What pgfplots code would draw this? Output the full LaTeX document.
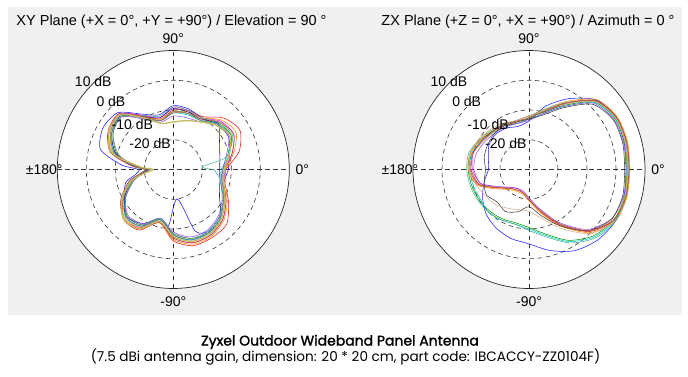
\documentclass[border=0pt]{standalone}
\usepackage{pgfplots}
\pgfplotsset{compat=1.18}
\usepackage{fontspec}
\setmainfont{Liberation Sans}
\newfontfamily\pop{Poppins}
\newfontfamily\popm[FakeBold=1.6]{Poppins}
\definecolor{panel}{RGB}{240,240,240}
\definecolor{c1}{RGB}{30,30,255}
\definecolor{c2}{RGB}{235,20,20}
\definecolor{c3}{RGB}{0,150,0}
\definecolor{c4}{RGB}{240,0,240}
\definecolor{c5}{RGB}{0,205,205}
\definecolor{c6}{RGB}{255,140,0}
\definecolor{c7}{RGB}{195,185,95}
\definecolor{c8}{RGB}{150,80,230}
\definecolor{c9}{RGB}{30,30,150}
\definecolor{c10}{RGB}{80,175,150}
\definecolor{c11}{RGB}{180,80,50}
\definecolor{c12}{RGB}{130,130,130}
\definecolor{c13}{RGB}{60,60,60}
\definecolor{c14}{RGB}{215,175,140}
\pgfplotsset{
  tr/.style={line width=0.55pt, smooth, tension=0.45, no marks, data cs=polar},
  pax/.style={width=232pt, height=238pt, scale only axis, xmin=-40, xmax=40, ymin=-40, ymax=40, hide axis, clip=false},
}
\newcommand{\polgrid}{%
  \fill[white] (axis cs:0,0) ellipse [x radius=40, y radius=40];
  \draw[black!80, line width=0.6pt, dash pattern=on 4.5pt off 3.5pt] (axis cs:0,0) ellipse [x radius=10, y radius=10];
  \draw[black!80, line width=0.6pt, dash pattern=on 4.5pt off 3.5pt] (axis cs:0,0) ellipse [x radius=20, y radius=20];
  \draw[black!80, line width=0.6pt, dash pattern=on 4.5pt off 3.5pt] (axis cs:0,0) ellipse [x radius=30, y radius=30];
  \draw[black!80, line width=0.6pt, dash pattern=on 4.5pt off 3.5pt] (axis cs:-40,0) -- (axis cs:40,0);
  \draw[black!80, line width=0.6pt, dash pattern=on 4.5pt off 3.5pt] (axis cs:0,-40) -- (axis cs:0,40);
}
\newcommand{\pollabels}{%
  \draw[black!85, line width=0.7pt] (axis cs:0,0) ellipse [x radius=40, y radius=40];
  \node[font=\fontsize{14}{16}\selectfont] at (axis cs:0,44) {90°};
  \node[font=\fontsize{14}{16}\selectfont] at (axis cs:0,-44.5) {-90°};
  \node[font=\fontsize{14}{16}\selectfont] at (axis cs:44.5,0) {0°};
  \node[font=\fontsize{14}{16}\selectfont] at (axis cs:-44.5,0) {±180°};
  \node[font=\fontsize{14}{16}\selectfont] at (axis cs:-27.6,29.6) {10 dB};
  \node[font=\fontsize{14}{16}\selectfont] at (axis cs:-21.5,23.0) {0 dB};
  \node[font=\fontsize{14}{16}\selectfont] at (axis cs:-14.1,15.1) {-10 dB};
  \node[font=\fontsize{14}{16}\selectfont] at (axis cs:-8.0,8.6) {-20 dB};
}
\begin{document}
\begin{tikzpicture}[x=1pt,y=1pt]
\path[use as bounding box] (0,0) rectangle (688,376);
\fill[white] (0,0) rectangle (688,376);
\fill[panel] (8,61) rectangle (682,369);
\node[font=\fontsize{14.5}{16}\selectfont] at (171.5,354.3) {XY Plane (+X = 0°, +Y = +90°) / Elevation = 90 °};
\node[font=\fontsize{14.5}{16}\selectfont] at (528,354.3) {ZX Plane (+Z = 0°, +X = +90°) / Azimuth = 0 °};
\node[font=\popm\fontsize{14}{16}\selectfont] at (340,34) {Zyxel Outdoor Wideband Panel Antenna};
\node[font=\pop\fontsize{13.6}{16}\selectfont] at (345.5,19.5) {(7.5 dBi antenna gain, dimension: 20 * 20 cm, part code: IBCACCY-ZZ0104F)};

% ---------------- XY plane ----------------
\begin{axis}[pax, at={(173.3pt,206.5pt)}, anchor=center]
\polgrid
\addplot[tr, c1] table[x=a, y expr=\thisrow{d}+30] {
a d
0 -11
15 -10
30 -8
45 -8.5
60 -10
75 -9
90 -8.5
105 -11
120 -8.5
135 -3
150 -2
165 -4
175 -12
180 -18
187 -17
195 -13
210 -10.5
225 -7.5
240 -9
255 -13
265 -11
278 -20
290 -8
300 -6
315 -7.5
330 -10
345 -12
360 -11
};
\addplot[tr, c2] table[x=a, y expr=\thisrow{d}+30] {
a d
0 -12
15 -6.5
30 -3.5
45 -5.5
60 -9.5
75 -9.5
90 -10
105 -12.5
120 -9
135 -4
150 -5
165 -9
175 -16
180 -21
187 -19
195 -15
210 -10
225 -6
240 -6.5
255 -11.5
270 -6
285 -3.5
300 -3.5
315 -4
330 -8
345 -11.5
360 -12
};
\addplot[tr, c3] table[x=a, y expr=\thisrow{d}+30] {
a d
0 -13
15 -10
30 -7
45 -8
60 -11
75 -10.5
90 -10.5
105 -13
120 -10
135 -4.5
150 -6
165 -10
175 -17
180 -21.5
187 -19.5
195 -15.5
210 -11
225 -7.5
240 -8.5
255 -12.5
270 -8.5
285 -6
300 -5.5
315 -7
330 -10
345 -13
360 -13
};
\addplot[tr, c4] table[x=a, y expr=\thisrow{d}+30] {
a d
0 -12
15 -9
30 -6
45 -7
60 -10
75 -9.5
90 -9
105 -12
120 -9
135 -3.5
150 -4.5
165 -8
175 -15.5
180 -20.5
187 -18.5
195 -14.5
210 -9.5
225 -6
240 -7.5
255 -12
270 -7
285 -4.5
300 -4.5
315 -6
330 -9
345 -12
360 -12
};
\addplot[tr, c5] table[x=a, y expr=\thisrow{d}+30] {
a d
0 -13.5
15 -10.5
30 -7.5
45 -8.5
60 -11
75 -11
90 -11
105 -13
120 -10
135 -4.5
150 -5
165 -9
175 -16.5
180 -21
187 -19
195 -15
210 -10.5
225 -7
240 -8
255 -13
270 -8
285 -5.5
300 -6
315 -7.5
330 -10
345 -13
360 -13.5
};
\addplot[tr, c6] table[x=a, y expr=\thisrow{d}+30] {
a d
0 -12
15 -8.5
30 -5
45 -6.5
60 -10
75 -10
90 -10.5
105 -12.5
120 -9.5
135 -4
150 -5
165 -8.5
175 -16
180 -20.5
187 -18.5
195 -14.5
210 -9.5
225 -6.5
240 -7.5
255 -11.5
270 -6.5
285 -4
300 -4
315 -5.5
330 -8.5
345 -11.5
360 -12
};
\addplot[tr, c8] table[x=a, y expr=\thisrow{d}+30] {
a d
0 -13
15 -11
30 -8
45 -9
60 -11.5
75 -12
90 -12
105 -13.5
120 -10.5
135 -5
150 -5.5
165 -9.5
175 -17
180 -21.5
187 -19.5
195 -16
210 -11
225 -8
240 -9
255 -13
270 -9
285 -6.5
300 -6.5
315 -8
330 -10.5
345 -13
360 -13
};
\addplot[tr, c9] table[x=a, y expr=\thisrow{d}+30] {
a d
0 -14
15 -13.4
30 -11.6
45 -8
60 -10.5
75 -10
90 -9.5
105 -12
120 -9.5
135 -4.5
150 -5.5
165 -9.5
175 -16.5
180 -21
187 -19
195 -15
210 -10.5
225 -7
240 -8
255 -12.5
270 -8
285 -5.5
300 -5.5
315 -7
330 -11.6
345 -13.4
360 -14
};
\addplot[tr, c10] table[x=a, y expr=\thisrow{d}+30] {
a d
0 -16
5 -20
12 -12
20 -9
30 -6.5
45 -7.5
60 -10
75 -9.5
90 -9
105 -11.5
120 -9
135 -4.5
150 -5.5
165 -9
175 -16
180 -20
187 -18.5
195 -14.5
210 -10
225 -7
240 -8
255 -12.5
270 -8
285 -5.5
300 -5.5
315 -7
330 -10
345 -12.5
360 -16
};
\addplot[tr, c11] table[x=a, y expr=\thisrow{d}+30] {
a d
0 -12.5
15 -9
30 -6
45 -7.5
60 -10.5
75 -10.5
90 -11
105 -13
120 -9.5
135 -3.5
150 -4
165 -7.5
175 -15.5
180 -20.5
187 -18.5
195 -14
210 -9
225 -6
240 -7
255 -11.5
270 -7
285 -4.5
300 -4.5
315 -6
330 -9
345 -12
360 -12.5
};
\addplot[tr, c12] table[x=a, y expr=\thisrow{d}+30] {
a d
0 -13
15 -10
30 -7
45 -8.5
60 -11
75 -10.5
90 -10.5
105 -13
120 -10
135 -5
150 -6
165 -10.5
175 -17
180 -21.5
187 -20
195 -16
210 -11
225 -7.5
240 -8.5
255 -13
270 -8.5
285 -6
300 -6
315 -7.5
330 -10
345 -12.5
360 -13
};
\addplot[tr, c7, line width=1.3pt] table[x=a, y expr=\thisrow{d}+30] {
a d
0 -12.5
15 -10
30 -7.5
45 -9
60 -11.5
75 -13
90 -14
105 -14
120 -10
135 -4
150 -4.5
165 -8
175 -18
180 -23
187 -20
195 -15
210 -9.5
225 -6
240 -7
255 -12
270 -7.5
285 -5
300 -5
315 -6.5
330 -9.5
345 -12
360 -12.5
};
\pollabels
\end{axis}

% ---------------- ZX plane ----------------
\begin{axis}[pax, at={(529pt,206.5pt)}, anchor=center]
\polgrid
\addplot[tr, c2] table[x=a, y expr=\thisrow{d}+30] {
a d
0 4.5
15 5
30 5
45 2.8
60 -4
75 -9.5
90 -13
105 -14
120 -13
135 -12
150 -11
165 -9.5
180 -9.5
195 -11.5
202 -14.5
210 -17.5
225 -21
240 -22
255 -22
270 -20
285 -15.5
300 -8.5
315 -0.5
330 4
345 4.8
360 4.5
};
\addplot[tr, c4] table[x=a, y expr=\thisrow{d}+30] {
a d
0 4.2
15 4.6
30 4.8
45 2.5
60 -4.5
75 -10
90 -12
105 -13
120 -12.5
135 -12
150 -11
165 -10
180 -10.5
195 -12.5
202 -15.5
210 -18
225 -21.5
240 -22.5
255 -22
270 -20
285 -16
300 -9
315 -1
330 3.8
345 4.5
360 4.2
};
\addplot[tr, c1] table[x=a, y expr=\thisrow{d}+30] {
a d
0 3.5
15 4
30 4.5
45 3
60 -2.5
75 -8
90 -13.7
105 -15
120 -14
135 -13.5
150 -14
165 -15.5
180 -16
195 -14
210 -11.5
225 -9
240 -7.3
255 -6
270 -5
285 -1.8
300 1.5
315 3.5
330 4.5
345 4
360 3.5
};
\addplot[tr, c3] table[x=a, y expr=\thisrow{d}+30] {
a d
0 3.8
15 4.2
30 4.2
45 2
60 -5
75 -10
90 -12.5
105 -13.5
120 -13
135 -12
150 -10.5
165 -9
180 -9
195 -9.5
210 -10
225 -10.5
240 -11
255 -11.5
270 -10.5
285 -7.5
300 -2.5
315 1.5
330 3.8
345 4.2
360 3.8
};
\addplot[tr, c5] table[x=a, y expr=\thisrow{d}+30] {
a d
0 4
15 4.4
30 4.3
45 1.8
60 -5.5
75 -10.5
90 -13
105 -14
120 -13.5
135 -12.5
150 -11
165 -9.5
180 -9.5
195 -10
210 -10.5
225 -10
240 -10.5
255 -11
270 -10
285 -7
300 -2
315 2
330 4.2
345 4.4
360 4
};
\addplot[tr, c6] table[x=a, y expr=\thisrow{d}+30] {
a d
0 4.8
15 5.2
30 5.2
45 3.2
60 -3.5
75 -9
90 -12
105 -13
120 -12.5
135 -11.5
150 -10.5
165 -9
180 -9
195 -11
202 -14
210 -17
225 -20.5
240 -21.5
255 -21.5
270 -19.5
285 -15
300 -8
315 0
330 4.5
345 5
360 4.8
};
\addplot[tr, c7] table[x=a, y expr=\thisrow{d}+30] {
a d
0 4
15 4.3
30 4.5
45 2.2
60 -4.5
75 -9.5
90 -12.5
105 -13.5
120 -13
135 -12.5
150 -11.5
165 -10
180 -10
195 -12
202 -15
210 -18
225 -21
240 -22
255 -22
270 -20
285 -16
300 -9
315 -1
330 3.5
345 4.2
360 4
};
\addplot[tr, c8] table[x=a, y expr=\thisrow{d}+30] {
a d
0 3.5
15 3.8
30 3.8
45 1.5
60 -5.5
75 -10.5
90 -13.5
105 -14
120 -13.5
135 -13
150 -12
165 -11
180 -11
195 -12.5
202 -15.5
210 -18.5
225 -21.5
240 -22.5
255 -22.5
270 -20.5
285 -16.5
300 -9.5
315 -1.5
330 3
345 3.8
360 3.5
};
\addplot[tr, c13] table[x=a, y expr=\thisrow{d}+30] {
a d
0 3
15 3.5
30 3.5
45 1
60 -6
75 -11
90 -13
105 -13.5
120 -13
135 -13
150 -13.5
165 -14
180 -15
195 -14
210 -13
225 -14.5
240 -13.7
255 -15.3
270 -17.5
285 -14
300 -8
315 -1
330 3
345 3.5
360 3
};
\addplot[tr, c10] table[x=a, y expr=\thisrow{d}+30] {
a d
0 4.3
15 4.7
30 4.8
45 2.6
60 -4
75 -9
90 -12
105 -13
120 -12.5
135 -11.5
150 -10
165 -8.5
180 -8.5
195 -9
210 -9.5
225 -10
240 -10.5
255 -11
270 -9.5
285 -6.5
300 -1.5
315 2.5
330 4.5
345 4.7
360 4.3
};
\addplot[tr, c14] table[x=a, y expr=\thisrow{d}+30] {
a d
0 4.2
15 4.5
30 4.6
45 2.4
60 -4.5
75 -9.5
90 -12
105 -13
120 -12
135 -11
150 -10
165 -9
180 -9.5
195 -11
210 -12.5
225 -13.5
240 -15
255 -16
270 -16
285 -13
300 -7
315 0.5
330 4
345 4.5
360 4.2
};
\addplot[tr, c11] table[x=a, y expr=\thisrow{d}+30] {
a d
0 4.6
15 4.9
30 4.9
45 2.6
60 -4.2
75 -9.7
90 -12.7
105 -13.2
120 -12.8
135 -12.2
150 -11.2
165 -9.8
180 -10
195 -11.8
202 -14.8
210 -17.8
225 -21
240 -22
255 -21.8
270 -19.8
285 -15.8
300 -8.8
315 -0.8
330 3.8
345 4.6
360 4.6
};
\pollabels
\end{axis}
\end{tikzpicture}
\end{document}
